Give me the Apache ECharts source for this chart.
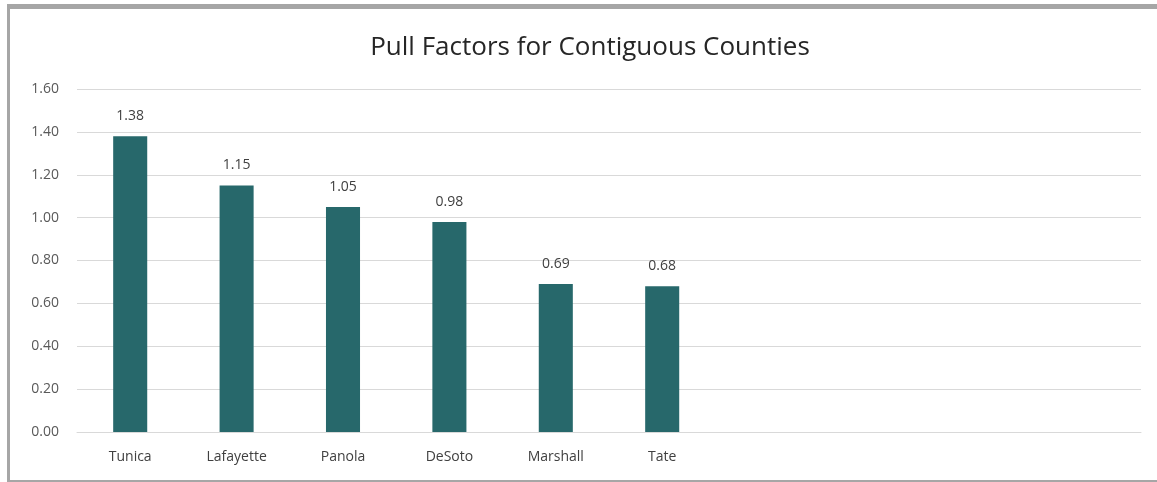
<!DOCTYPE html>
<html><head><meta charset="utf-8">
<script src="https://cdn.jsdelivr.net/npm/echarts@6/dist/echarts.min.js"></script>
<style>
html,body{margin:0;padding:0;background:#fff;}
#c{position:absolute;left:0;top:0;width:1157px;height:482px;}
.b{position:absolute;background:#a6a6a6;}
</style></head><body>
<div id="c"></div>
<div class="b" style="left:7px;top:4px;width:1150px;height:5px;"></div>
<div class="b" style="left:7px;top:4px;width:3px;height:478px;"></div>
<div class="b" style="left:7px;top:480px;width:1150px;height:2px;"></div>
<script>
const title = "Pull Factors for Contiguous Counties";
const categories = ["Tunica","Lafayette","Panola","DeSoto","Marshall","Tate","","","",""];
const pullFactors = [1.38,1.15,1.05,0.98,0.69,0.68,null,null,null,null];
const yTicks = {min:0, max:1.6, interval:0.2};

const chart = echarts.init(document.getElementById('c'));
chart.setOption({
  animation:false,
  title:{text:title,left:585,top:30,textAlign:'center',
    textStyle:{fontFamily:'Open Sans',fontSize:26,fontWeight:'normal',color:'#262626'}},
  grid:{left:77,right:16,top:89,bottom:50},
  xAxis:{type:'category',data:categories,
    axisLine:{show:true,lineStyle:{color:'#d9d9d9',width:1}},
    axisTick:{show:false},
    axisLabel:{color:'#404040',fontFamily:'Open Sans',fontSize:14,margin:18}},
  yAxis:{type:'value',min:yTicks.min,max:yTicks.max,interval:yTicks.interval,
    axisLine:{show:false},axisTick:{show:false},
    splitLine:{lineStyle:{color:'#d9d9d9',width:1}},
    axisLabel:{color:'#595959',fontFamily:'Open Sans',fontSize:14,margin:18,
      formatter:v=>v.toFixed(2)}},
  series:[{type:'bar',data:pullFactors,barWidth:'32%',
    itemStyle:{color:'#27686b'},
    label:{show:true,position:'top',distance:13,color:'#404040',fontFamily:'Open Sans',fontSize:14,
      formatter:p=>p.value.toFixed(2)}}]
});
</script></body></html>
